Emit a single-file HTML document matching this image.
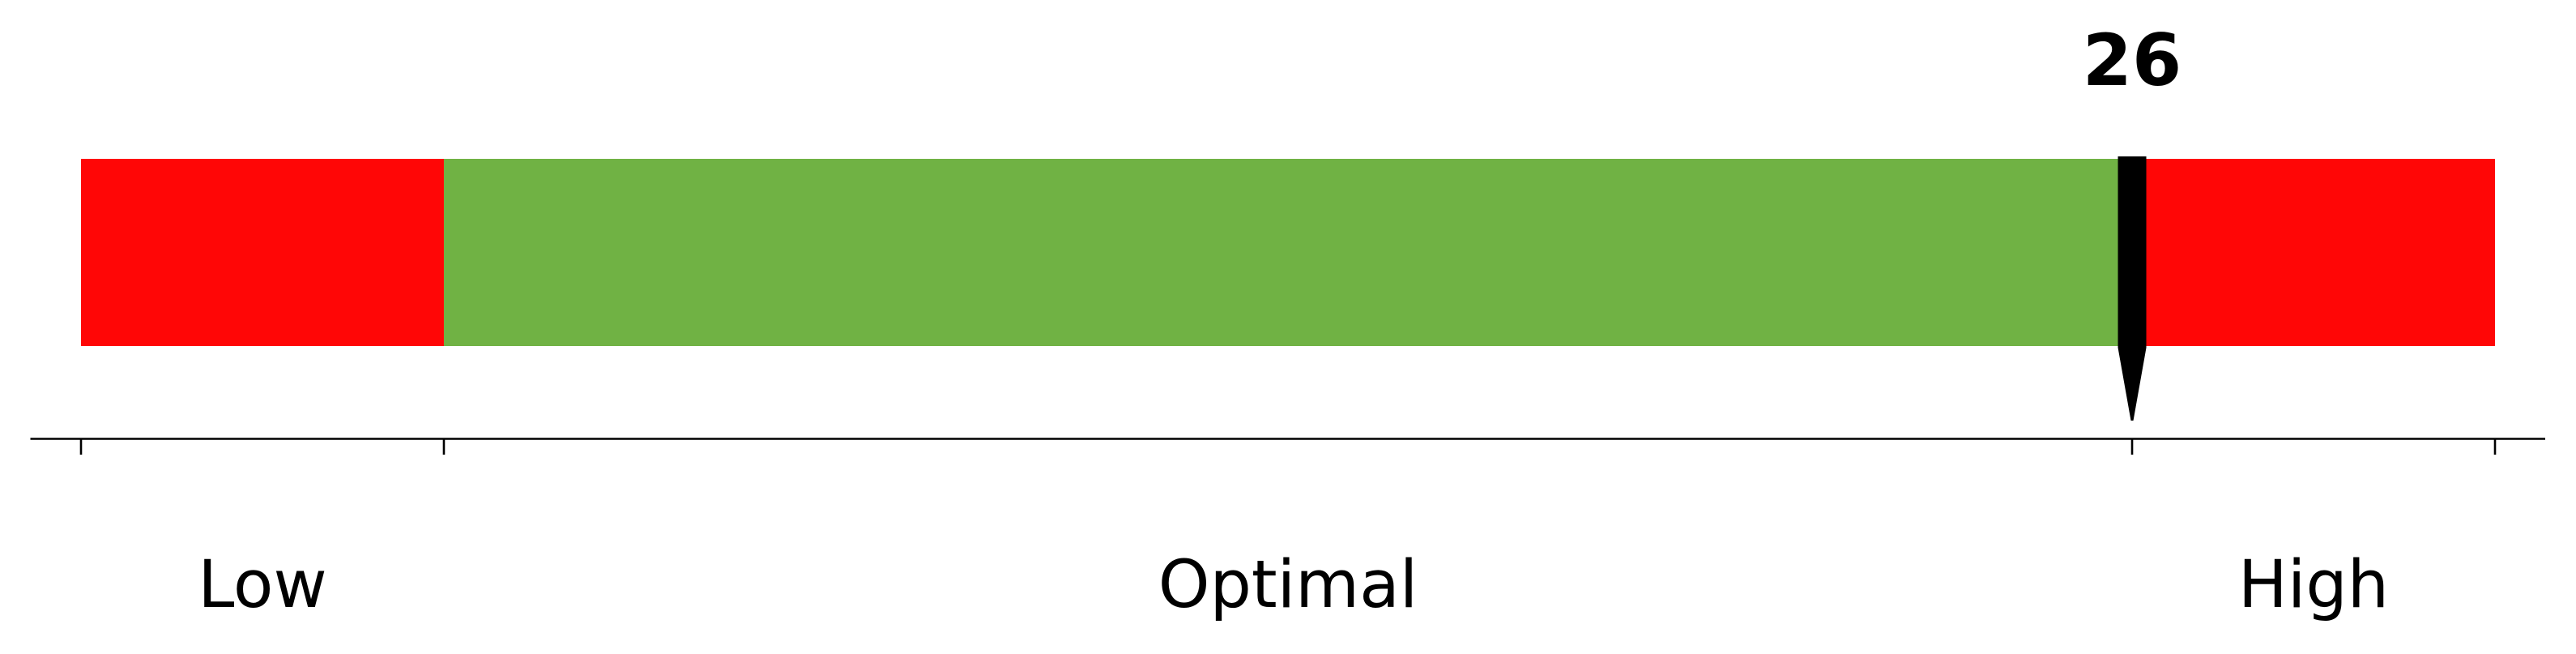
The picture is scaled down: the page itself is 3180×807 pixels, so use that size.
<!DOCTYPE html>
<html>
<head>
<meta charset="utf-8">
<style>
  html, body { margin: 0; padding: 0; background: #ffffff; }
  svg { display: block; }
  text { font-family: "DejaVu Sans", "Liberation Sans", sans-serif; }
</style>
</head>
<body>
<svg id="chart" width="3180" height="807" viewBox="0 0 3180 807" xmlns="http://www.w3.org/2000/svg">
  <rect x="0" y="0" width="3180" height="807" fill="#ffffff"/>
  <g id="bands"></g>
  <g id="axis"></g>
  <g id="labels"></g>
  <g id="marker"></g>
</svg>
<script>
// ---- data ----
const boundaries = [0, 4.6, 26, 30.6];
const rangeNames = ["Low", "Optimal", "High"];
const rangeColors = ["#ff0606", "#70b244", "#ff0606"];
const tickValues = [0, 4.6, 26, 30.6];
const currentValue = 26;
const valueLabel = "26";

// ---- scales ----
const X0 = 100, X1 = 3080;
const dMin = boundaries[0], dMax = boundaries[boundaries.length - 1];
function xScale(v) { return X0 + (v - dMin) / (dMax - dMin) * (X1 - X0); }
const barTop = 196, barBottom = 427, axisY = 541.5;
const NS = "http://www.w3.org/2000/svg";
function mk(tag, attrs) {
  const e = document.createElementNS(NS, tag);
  for (const k in attrs) e.setAttribute(k, attrs[k]);
  return e;
}

// bands
const bands = document.getElementById('bands');
for (let i = 0; i < rangeNames.length; i++) {
  const xa = xScale(boundaries[i]), xb = xScale(boundaries[i + 1]);
  const r = mk('rect', { x: xa, y: barTop, width: xb - xa, height: barBottom - barTop, fill: rangeColors[i] });
  
  
  bands.appendChild(r);
}

// axis
const axis = document.getElementById('axis');
const line = mk('line', { x1: 37.5, x2: 3142, y1: axisY, y2: axisY, stroke: '#000', 'stroke-width': 2.6 });


axis.appendChild(line);
tickValues.forEach(function (v) {
  const tx = xScale(v);
  const t = mk('line', { x1: tx, x2: tx, y1: axisY, y2: 561, stroke: '#000', 'stroke-width': 2.6 });
  
  
  axis.appendChild(t);
});

// range labels
const labels = document.getElementById('labels');
for (let i = 0; i < rangeNames.length; i++) {
  const cx = (xScale(boundaries[i]) + xScale(boundaries[i + 1])) / 2;
  const tx = mk('text', { x: cx, y: 749, 'text-anchor': 'middle', 'font-size': 81, fill: '#000' });
  tx.textContent = rangeNames[i];
  
  
  labels.appendChild(tx);
}

// marker
const marker = document.getElementById('marker');
const mx = xScale(currentValue);
const hw = 17.5;
const body = mk('rect', { x: mx - hw, y: 193, width: hw * 2, height: 236, fill: '#000' });


marker.appendChild(body);
const tip = mk('polygon', { points: (mx - hw) + ',429 ' + (mx + hw) + ',429 ' + (mx + 1.5) + ',519 ' + (mx - 1.5) + ',519', fill: '#000' });


marker.appendChild(tip);
const vl = mk('text', { x: mx, y: 105, 'text-anchor': 'middle', 'font-size': 88, 'font-weight': 'bold', fill: '#000' });
vl.textContent = valueLabel;


marker.appendChild(vl);
</script>
</body>
</html>
